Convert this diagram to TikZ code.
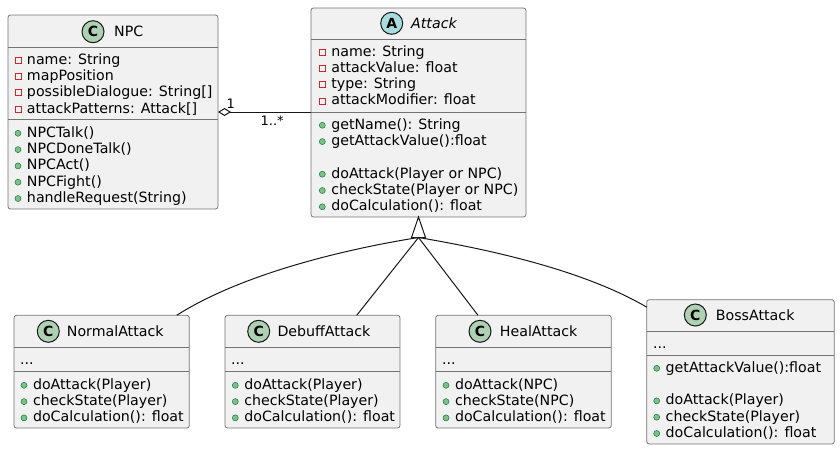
\documentclass[tikz,border=0pt]{standalone}
\usepackage{fontspec}
\setmainfont{DejaVu Sans}
\usetikzlibrary{arrows.meta,calc}
\definecolor{boxfill}{HTML}{F1F1F1}
\definecolor{boxline}{HTML}{181818}
\definecolor{cicon}{HTML}{ADD1B2}
\definecolor{aicon}{HTML}{A9DCDF}
\definecolor{privred}{HTML}{C82930}
\definecolor{pubfill}{HTML}{84BE84}
\definecolor{publine}{HTML}{038048}
\tikzset{
  classbox/.style={draw=boxline!60, fill=boxfill, line width=0.8pt, rounded corners=2.5pt, inner sep=0pt, outer sep=0pt, anchor=north west},
  sepline/.style={draw=boxline!60, line width=0.8pt},
  member/.style={anchor=base west, inner sep=0pt, font=\fontsize{14.2}{16}\selectfont, text=black},
  privicon/.style={rectangle, draw=privred, line width=0.8pt, minimum size=6pt, inner sep=0pt},
  pubicon/.style={circle, draw=publine, fill=pubfill, line width=0.5pt, minimum size=6pt, inner sep=0pt},
  cbadge/.style={circle, draw=boxline, fill=cicon, line width=1pt, minimum size=22pt, inner sep=0pt, font=\fontsize{14}{14}\selectfont\bfseries},
  abadge/.style={cbadge, fill=aicon},
  link/.style={draw=boxline, line width=1pt},
  mult/.style={inner sep=0pt, font=\fontsize{13}{13}\selectfont},
}
\newcommand\privm[4]{\node[privicon] (#1i) at (#2,#3-4) {}; \node[member] (#1) at (#2+8.8,#3) {#4};}
\newcommand\pubm[4]{\node[pubicon] (#1i) at (#2,#3-4) {}; \node[member] (#1) at (#2+8.8,#3) {#4};}
\begin{document}
\begin{tikzpicture}[x=1pt,y=-1pt]
\useasboundingbox (0,0) rectangle (840,450);

% ---------- NPC ----------
\node[classbox, minimum width=210pt, minimum height=194pt] (npc) at (8,15) {};
\draw[sepline] (8,47) -- (218,47);
\draw[sepline] (8,119.3) -- (218,119.3);
\node[cbadge] (npcb) at (93,31.7) {C};
\node[member] (npct) at (114,36.7) {NPC};
\privm{npc1}{18}{64}{name: String}
\privm{npc2}{18}{80.3}{mapPosition}
\privm{npc3}{18}{96.6}{possibleDialogue: String[]}
\privm{npc4}{18}{113}{attackPatterns: Attack[]}
\pubm{npc5}{18}{137.3}{NPCTalk()}
\pubm{npc6}{18}{153.6}{NPCDoneTalk()}
\pubm{npc7}{18}{169.9}{NPCAct()}
\pubm{npc8}{18}{186.2}{NPCFight()}
\pubm{npc9}{18}{202.5}{handleRequest(String)}

% ---------- Attack ----------
\node[classbox, minimum width=215pt, minimum height=209pt] (attack) at (311,8) {};
\draw[sepline] (311,39.3) -- (526,39.3);
\draw[sepline] (311,112.7) -- (526,112.7);
\node[abadge] (attb) at (391.7,23.3) {A};
\node[member] (attt) at (411,28.3) {\itshape Attack};
\privm{att1}{322.3}{56}{name: String}
\privm{att2}{322.3}{72.3}{attackValue: float}
\privm{att3}{322.3}{88.6}{type: String}
\privm{att4}{322.3}{104.9}{attackModifier: float}
\pubm{att5}{322.3}{129.3}{getName(): String}
\pubm{att6}{322.3}{145.6}{getAttackValue():float}
\pubm{att7}{322.3}{178.2}{doAttack(Player or NPC)}
\pubm{att8}{322.3}{194.5}{checkState(Player or NPC)}
\pubm{att9}{322.3}{210.8}{doCalculation(): float}

% ---------- NormalAttack ----------
\node[classbox, minimum width=175.3pt, minimum height=112.7pt] (normal) at (14,315.3) {};
\draw[sepline] (14,347.3) -- (189.3,347.3);
\draw[sepline] (14,371.3) -- (189.3,371.3);
\node[cbadge] (norb) at (48.3,331.3) {C};
\node[member] (nort) at (66.7,336) {NormalAttack};
\node[member] (nor0) at (20,364) {...};
\pubm{nor1}{24}{389.3}{doAttack(Player)}
\pubm{nor2}{24}{405.6}{checkState(Player)}
\pubm{nor3}{24}{421.9}{doCalculation(): float}

% ---------- DebuffAttack ----------
\node[classbox, minimum width=175pt, minimum height=112.7pt] (debuff) at (225,315.3) {};
\draw[sepline] (225,347.3) -- (400,347.3);
\draw[sepline] (225,371.3) -- (400,371.3);
\node[cbadge] (debb) at (258.7,331.3) {C};
\node[member] (debt) at (277.3,336) {DebuffAttack};
\node[member] (deb0) at (231,364) {...};
\pubm{deb1}{235.3}{389.3}{doAttack(Player)}
\pubm{deb2}{235.3}{405.6}{checkState(Player)}
\pubm{deb3}{235.3}{421.9}{doCalculation(): float}

% ---------- HealAttack ----------
\node[classbox, minimum width=175.6pt, minimum height=112.7pt] (heal) at (435.7,315.3) {};
\draw[sepline] (435.7,347.3) -- (611.3,347.3);
\draw[sepline] (435.7,371.3) -- (611.3,371.3);
\node[cbadge] (heab) at (480,331.3) {C};
\node[member] (heat) at (499.7,336) {HealAttack};
\node[member] (hea0) at (442,364) {...};
\pubm{hea1}{446}{389.3}{doAttack(NPC)}
\pubm{hea2}{446}{405.6}{checkState(NPC)}
\pubm{hea3}{446}{421.9}{doCalculation(): float}

% ---------- BossAttack ----------
\node[classbox, minimum width=187.6pt, minimum height=144.3pt] (boss) at (646.7,299.7) {};
\draw[sepline] (646.7,331.7) -- (834.3,331.7);
\draw[sepline] (646.7,355) -- (834.3,355);
\node[cbadge] (bosb) at (695.3,315) {C};
\node[member] (bost) at (715.7,320) {BossAttack};
\node[member] (bos0) at (653,348) {...};
\pubm{bos1}{656.7}{372.3}{getAttackValue():float}
\pubm{bos2}{656.7}{404.9}{doAttack(Player)}
\pubm{bos3}{656.7}{421.2}{checkState(Player)}
\pubm{bos4}{656.7}{437.5}{doCalculation(): float}

% ---------- aggregation ----------
\draw[link, {Diamond[open,length=13pt,width=8pt]}-] (npc.east) -- (npc.east -| attack.west);
\node[mult] (m1) at (230.7,104) {1};
\node[mult] (m2) at (272.2,120.5) {1..*};

% ---------- inheritance ----------
\coordinate (tri) at ($(attack.south)+(0,20.5)$);
\coordinate (norend) at (176.7,315.3);
\coordinate (debend) at (356.7,315.3);
\coordinate (heaend) at (478,315.3);
\coordinate (bosend) at (647,307.3);
\draw[link] (tri) .. controls (340,250) and (240,275) .. (norend);
\draw[link] (tri) -- (debend);
\draw[link] (tri) -- (heaend);
\draw[link] (tri) .. controls (480,248) and (580,268) .. (bosend);
\draw[link, fill=white] (attack.south) -- ++(-7,20.5) -- ++(14,0) -- cycle;
\end{tikzpicture}
\end{document}
